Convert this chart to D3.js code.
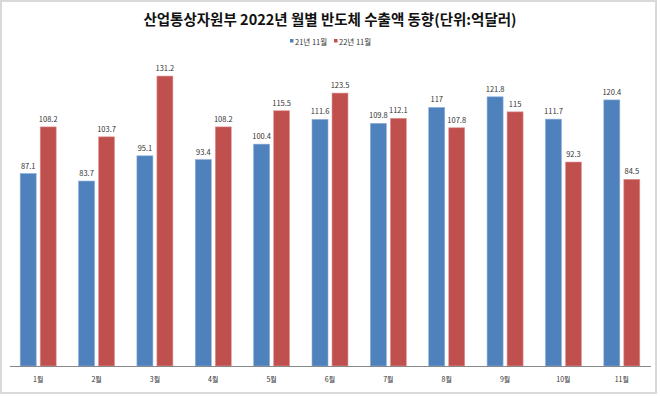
<!DOCTYPE html>
<html>
<head>
<meta charset="utf-8">
<script src="https://cdn.jsdelivr.net/npm/d3@7"></script>
<style>
    body { margin: 0; background: #fff; }
    svg { display: block; font-family: "Noto Sans CJK KR", "Noto Sans", sans-serif; }
</style>
</head>
<body>
<div id="chart"></div>
<script>
// chart data (unit: 억달러)
let months = ["1월", "2월", "3월", "4월", "5월", "6월", "7월", "8월", "9월", "10월", "11월"];
let seriesNames = ["21년 11월", "22년 11월"];
let values2021 = [87.1, 83.7, 95.1, 93.4, 100.4, 111.6, 109.8, 117, 121.8, 111.7, 120.4];
let values2022 = [108.2, 103.7, 131.2, 108.2, 115.5, 123.5, 112.1, 107.8, 115, 92.3, 84.5];
let colors = ["#4f81bd", "#c0504d"];

let width = 660, height = 396;
let margin = {top: 56.6, right: 9, bottom: 30, left: 9};

let svg = d3.select("#chart").append("svg")
    .attr("width", width)
    .attr("height", height);

// outer frame
svg.append("rect")
    .attr("x", 1).attr("y", 1)
    .attr("width", 655).attr("height", 392)
    .attr("fill", "#fff")
    .attr("stroke", "#d9d9d9")
    .attr("stroke-width", 2);

// title
svg.append("text")
    .attr("x", 330).attr("y", 25)
    .attr("text-anchor", "middle")
    .style("font-size", "14.5px")
    .style("font-weight", "bold")
    .attr("fill", "#111")
    .text("산업통상자원부 2022년 월별 반도체 수출액 동향(단위:억달러)");

// legend
let legend = svg.append("g").attr("transform", "translate(290,43)");
seriesNames.forEach(function(name, i) {
    let g = legend.append("g").attr("transform", "translate(" + (i * 44) + ",0)");
    g.append("rect").attr("x", 0).attr("y", -4).attr("width", 3.5).attr("height", 3.5).attr("fill", colors[i]);
    g.append("text").attr("x", 5).attr("y", 2)
        .style("font-size", "7.5px").attr("fill", "#333").text(name);
});

let x = d3.scaleBand()
    .domain(months)
    .range([margin.left, width - margin.right]);

let y = d3.scaleLinear()
    .domain([0, 140])
    .range([height - margin.bottom, margin.top]);

let data = months.map((m, i) => ({month: m, vals: [values2021[i], values2022[i]]}));

let barW = 16, offset = 10;

let groups = svg.selectAll(".month")
    .data(data)
    .enter().append("g")
    .attr("class", "month")
    .attr("transform", d => "translate(" + (x(d.month) + x.bandwidth() / 2) + ",0)");

[0, 1].forEach(function(s) {
    let cx = s === 0 ? -offset : offset;
    groups.append("rect")
        .attr("x", cx - barW / 2)
        .attr("y", d => y(d.vals[s]))
        .attr("width", barW)
        .attr("height", d => y(0) - y(d.vals[s]))
        .attr("fill", colors[s])
        .attr("stroke", s === 0 ? "#8eb0d9" : "#e09a98")
        .attr("stroke-width", 0.6);

    groups.append("text")
        .attr("x", cx)
        .attr("y", d => y(d.vals[s]) - 5)
        .attr("text-anchor", "middle")
        .style("font-size", "7.5px")
        .attr("fill", "#333")
        .text(d => d.vals[s]);
});

// x axis
let xAxis = svg.append("g")
    .attr("transform", "translate(0," + y(0) + ")")
    .call(d3.axisBottom(x).tickSize(0).tickPadding(11));
xAxis.select(".domain").attr("stroke", "#888").attr("d", "M" + (margin.left + 1) + ",0.5H" + (width - margin.right));
xAxis.selectAll("text")
    .style("font-size", "7px")
    .style("font-family", "Noto Sans CJK KR, sans-serif")
    .attr("fill", "#333");
</script>
</body>
</html>
